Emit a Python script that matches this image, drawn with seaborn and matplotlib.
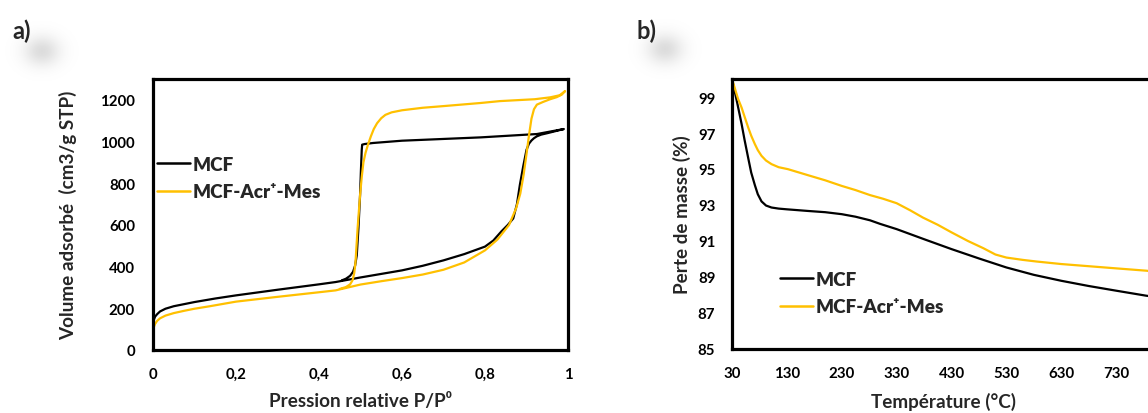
import matplotlib
matplotlib.use("Agg")
import matplotlib.pyplot as plt
from matplotlib import font_manager as fm
from matplotlib.ticker import MultipleLocator, FixedLocator
import numpy as np
import seaborn as sns

# ---------------- data ----------------
# Panel a: N2 isotherms (adsorption branch then desorption branch)
mcf_p = [0, 0.002, 0.005, 0.01, 0.017, 0.03, 0.05, 0.075, 0.1, 0.15, 0.2, 0.3, 0.4, 0.44,
         0.5, 0.6, 0.65, 0.7, 0.75, 0.8, 0.82, 0.84, 0.855, 0.868, 0.877, 0.884, 0.892,
         0.9, 0.906, 0.912, 0.918, 0.925, 0.935, 0.95, 0.97, 0.99,
         0.925, 0.79, 0.6, 0.53, 0.51, 0.504, 0.503, 0.501, 0.499, 0.495, 0.491, 0.487,
         0.482, 0.475, 0.465, 0.455]
mcf_v = [125, 145, 160, 172, 185, 198, 210, 220, 230, 247, 262, 289, 315, 326,
         348, 382, 404, 430, 460, 496, 525, 570, 600, 631, 700, 792, 880,
         960, 990, 1005, 1016, 1025, 1033, 1040, 1050, 1060,
         1036, 1020, 1004, 993, 988, 985, 960, 860, 744, 583, 454, 405,
         375, 356, 342, 334]

acr_p = [0, 0.002, 0.005, 0.01, 0.017, 0.03, 0.05, 0.075, 0.1, 0.137, 0.2, 0.3, 0.4, 0.44,
         0.47, 0.5, 0.55, 0.6, 0.65, 0.7, 0.75, 0.8, 0.83, 0.858, 0.875, 0.885, 0.893, 0.9,
         0.906, 0.912, 0.918, 0.925, 0.94, 0.957, 0.973, 0.985, 0.993,
         0.98, 0.957, 0.92, 0.836, 0.79, 0.7, 0.65, 0.6, 0.575, 0.56, 0.55, 0.54, 0.532,
         0.525, 0.518, 0.512, 0.507, 0.503, 0.499, 0.493, 0.488, 0.485, 0.481, 0.475,
         0.465, 0.45]
acr_v = [90, 110, 125, 140, 152, 165, 177, 188, 198, 210, 232, 255, 277, 286,
         300, 314, 330, 345, 362, 385, 420, 478, 530, 600, 680, 750, 840, 940,
         1030, 1110, 1155, 1177, 1190, 1203, 1213, 1225, 1242,
         1222, 1212, 1203, 1194, 1185, 1170, 1162, 1150, 1140, 1128, 1112, 1088, 1060,
         1025, 985, 945, 900, 830, 744, 583, 423, 370, 335, 315,
         302, 293]

# Panel b: TGA curves
tga_t_mcf = [30, 35, 40, 47.5, 53, 59.6, 65, 71.7, 77, 83.8, 92, 102, 115, 130, 168, 200,
             230, 255, 281.5, 300, 330, 380, 430, 480, 530, 580, 630, 680, 730, 785, 800]
tga_m_mcf = [100, 99.3, 98.6, 97.5, 96.6, 95.6, 94.8, 94.1, 93.6, 93.2, 92.97, 92.86, 92.8,
             92.76, 92.67, 92.6, 92.49, 92.35, 92.15, 91.95, 91.66, 91.1, 90.55, 90.03,
             89.53, 89.12, 88.79, 88.5, 88.24, 87.96, 87.9]
tga_t_acr = [30, 36, 41, 47.5, 53, 59.6, 65, 71.7, 77, 83.8, 92, 102, 115, 132, 168, 200,
             230, 255, 281.5, 305, 330, 355, 378, 405, 430, 460, 488, 510, 530, 560, 585,
             630, 680, 730, 785, 800]
tga_m_acr = [100, 99.4, 98.9, 98.41, 97.9, 97.3, 96.85, 96.38, 96.05, 95.73, 95.47, 95.27,
             95.1, 94.99, 94.66, 94.37, 94.06, 93.83, 93.55, 93.35, 93.1, 92.7, 92.3, 91.9,
             91.48, 91.0, 90.6, 90.25, 90.08, 89.95, 89.86, 89.72, 89.6, 89.48, 89.35, 89.3]

labels = ["MCF", "MCF-Acr\u207a-Mes"]
colors = ["#000000", "#FFC000"]

a_xticks = [0, 0.2, 0.4, 0.6, 0.8, 1.0]
a_xticklabels = ["0", "0,2", "0,4", "0,6", "0,8", "1"]
a_yticks = [0, 200, 400, 600, 800, 1000, 1200]
b_xticks = [30, 130, 230, 330, 430, 530, 630, 730]
b_yticks = [85, 87, 89, 91, 93, 95, 97, 99]

# ---------------- style ----------------
sns.set_style("white")

# pick an installed family that really has a bold face (Calibri-like first)
_cands = ["Lato", "Roboto", "Open Sans", "Noto Sans", "Liberation Sans", "DejaVu Sans"]
_bold = {f.name for f in fm.fontManager.ttflist
         if (f.weight if isinstance(f.weight, int) else
             {"bold": 700, "heavy": 800, "black": 900, "semibold": 600,
              "demibold": 600, "extra bold": 800}.get(str(f.weight).lower(), 400)) >= 700}
MAIN = next((c for c in _cands if c in _bold), "DejaVu Sans")
FAM = [MAIN, "DejaVu Sans"]
plt.rcParams["font.family"] = FAM
plt.rcParams["font.weight"] = "bold"
plt.rcParams["axes.labelweight"] = "bold"

SC = {"Lato": 1.0, "Roboto": 0.95, "Open Sans": 0.88, "Noto Sans": 0.9,
      "Liberation Sans": 0.9, "DejaVu Sans": 0.85}.get(MAIN, 0.9)

fig = plt.figure(figsize=(11.48, 4.14), dpi=100)

# soft grey glow behind the panel letters
for cx, cy in [(42, 52), (665, 50)]:
    gax = fig.add_axes([(cx - 40) / 1148, 1 - (cy + 30) / 414, 80 / 1148, 60 / 414])
    gx, gy = np.meshgrid(np.linspace(-1, 1, 80), np.linspace(-1, 1, 60))
    g = np.exp(-((gx / 0.45) ** 2 + (gy / 0.5) ** 2))
    rgba = np.zeros((60, 80, 4))
    rgba[..., :3] = 0.55
    rgba[..., 3] = 0.3 * g
    gax.imshow(rgba, aspect="auto", interpolation="bilinear")
    gax.axis("off")

axA = fig.add_axes([153 / 1148, 63 / 414, 415 / 1148, 271 / 414])
axB = fig.add_axes([732 / 1148, 64 / 414, 439 / 1148, 270 / 414])

LW = 1.6
TICKFS = 10.8 * SC
LABFS = 13.6 * SC
LEGFS = 13.6 * SC

# panel a
sns.lineplot(x=mcf_p, y=mcf_v, sort=False, estimator=None, color=colors[0], lw=LW,
             ax=axA, label=labels[0])
sns.lineplot(x=acr_p, y=acr_v, sort=False, estimator=None, color=colors[1], lw=LW,
             ax=axA, label=labels[1])
axA.set_xlim(0, 1)
axA.set_ylim(0, 1300)
axA.xaxis.set_major_locator(FixedLocator(a_xticks))
axA.set_xticklabels(a_xticklabels)
axA.xaxis.set_minor_locator(MultipleLocator(0.1))
axA.yaxis.set_major_locator(FixedLocator(a_yticks))

# panel b
sns.lineplot(x=tga_t_mcf, y=tga_m_mcf, sort=False, estimator=None, color=colors[0], lw=LW,
             ax=axB, label=labels[0])
sns.lineplot(x=tga_t_acr, y=tga_m_acr, sort=False, estimator=None, color=colors[1], lw=LW,
             ax=axB, label=labels[1])
axB.set_xlim(30, 830)
axB.set_ylim(85, 100)
axB.xaxis.set_major_locator(FixedLocator(b_xticks))
axB.yaxis.set_major_locator(FixedLocator(b_yticks))

for ax in (axA, axB):
    for s in ax.spines.values():
        s.set_linewidth(2.3)
        s.set_color("black")
        s.set_visible(True)
    ax.tick_params(axis="both", which="major", labelsize=TICKFS, width=2.0, color="black",
                   labelcolor="black")
    for lab in ax.get_xticklabels() + ax.get_yticklabels():
        lab.set_fontweight("bold")

axA.tick_params(axis="x", which="major", direction="inout", length=8, pad=8)
axA.tick_params(axis="x", which="minor", direction="inout", length=5, width=1.6, color="black")
axA.tick_params(axis="y", which="major", direction="inout", length=8, pad=9)
axB.tick_params(axis="x", which="major", direction="inout", length=8, pad=8)
axB.tick_params(axis="y", which="major", direction="out", length=4, pad=8)

axA.set_xlabel("Pression relative P/P\u2070", fontsize=LABFS, fontweight="bold", va="center")
axA.xaxis.set_label_coords(0.5, (351 - 402) / 271)
axA.set_ylabel("Volume adsorb\u00e9  (cm3/g STP)", fontsize=LABFS, fontweight="bold", va="center")
axA.yaxis.set_label_coords((68 - 153) / 415, 0.5)

axB.set_xlabel("Temp\u00e9rature (\u00b0C)", fontsize=LABFS, fontweight="bold", va="center")
axB.xaxis.set_label_coords((943 - 732) / 439, (350 - 402) / 270)
axB.set_ylabel("Perte de masse (%)", fontsize=LABFS, fontweight="bold", va="center")
axB.yaxis.set_label_coords((682 - 732) / 439, 0.5)

legkw = dict(frameon=False, handlelength=1.75, handletextpad=0.12,
             labelspacing=0.55, borderpad=0, borderaxespad=0, loc="upper left",
             prop=fm.FontProperties(family=FAM, weight="heavy", size=LEGFS))
legA = axA.legend(bbox_to_anchor=((157 - 153) / 415, (351 - 157) / 271), **legkw)
legB = axB.legend(bbox_to_anchor=((780 - 732) / 439, (350 - 272) / 270), **legkw)
for leg in (legA, legB):
    for h in leg.get_lines():
        h.set_linewidth(1.8)

fig.text(12 / 1148, 1 - 31 / 414, "a)", fontsize=17 * SC, fontweight="bold", va="center", ha="left")
fig.text(637 / 1148, 1 - 31 / 414, "b)", fontsize=17 * SC, fontweight="bold", va="center", ha="left")

fig.savefig("out.png", dpi=100)
